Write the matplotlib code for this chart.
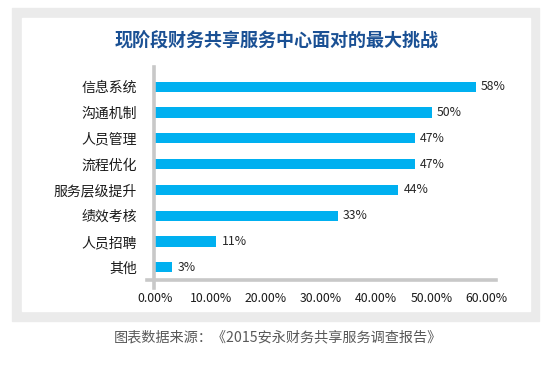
import matplotlib
matplotlib.use('Agg')
import matplotlib.pyplot as plt
from matplotlib.patches import Rectangle

plt.rcParams['font.family'] = ['Noto Sans CJK SC', 'DejaVu Sans']

categories = ['信息系统', '沟通机制', '人员管理', '流程优化', '服务层级提升', '绩效考核', '人员招聘', '其他']
values = [58, 50, 47, 47, 44, 33, 11, 3]
xticks = [0, 10, 20, 30, 40, 50, 60]
xticklabels = ['%.2f%%' % t for t in xticks]

W, H = 560, 367
fig = plt.figure(figsize=(W / 100, H / 100), dpi=100)

# grey frame and white card
fig.patches.append(Rectangle((12.3 / W, 1 - 320.7 / H), 527 / W, 312.4 / H,
                             transform=fig.transFigure, color='#ebebeb', zorder=-2))
fig.patches.append(Rectangle((22 / W, 1 - 310.7 / H), 508 / W, 292.4 / H,
                             transform=fig.transFigure, color='white', zorder=-1))

ax = fig.add_axes([146.7 / W, 1 - 280.3 / H, 349 / W, 213.6 / H])
ax.set_zorder(1)
ax.patch.set_alpha(0)

y = list(range(len(categories)))
ax.barh(y, values, height=0.39, color='#00b0f0', zorder=2)
for i, v in zip(y, values):
    ax.text(v + 0.95, i, '%d%%' % v, va='center', ha='left', fontsize=8.8, color='#262626')

ax.set_xlim(-1.594, 61.63)
ax.set_ylim(7.504, -0.775)
for s in ax.spines.values():
    s.set_visible(False)

# axis lines
ax.axvline(-0.33, ymin=-0.0375, ymax=1, color='#c8c8c8', lw=2.6, clip_on=False, zorder=3)
ax.axhline(7.504, xmin=0, xmax=1, color='#c8c8c8', lw=2.6, clip_on=False, zorder=3)

ax.set_yticks(y)
ax.set_yticklabels(categories, fontsize=10, color='#1a1a1a')
ax.set_xticks(xticks)
ax.set_xticklabels(xticklabels, fontsize=8.8, color='#1a1a1a')
ax.tick_params(axis='y', length=0, pad=7.2)
ax.tick_params(axis='x', length=0, pad=8.5)

fig.text(276.4 / W, 1 - 41 / H, '现阶段财务共享服务中心面对的最大挑战', ha='center', va='center',
         fontsize=13, fontweight='bold', color='#1a5094')
fig.text(277.6 / W, 1 - 337.3 / H, '图表数据来源：《2015安永财务共享服务调查报告》', ha='center', va='center',
         fontsize=10.2, color='#595959')

fig.savefig('out.png', dpi=100)
